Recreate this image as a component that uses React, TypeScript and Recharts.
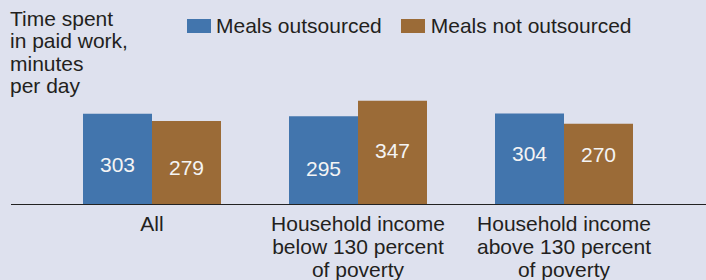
import React from "react";
import { BarChart, Bar, XAxis, YAxis, LabelList } from "recharts";

const categories = [
  "All",
  "Household income\nbelow 130 percent\nof poverty",
  "Household income\nabove 130 percent\nof poverty",
];
const mealsOutsourced = [303, 295, 304];
const mealsNotOutsourced = [279, 347, 270];
const seriesNames = ["Meals outsourced", "Meals not outsourced"];
const titleLines = ["Time spent", "in paid work,", "minutes", "per day"];
// small vertical nudges of the value labels, as placed in the original
const outsourcedLabelDy = [6, 8, -5.5];
const notOutsourcedLabelDy = [5.5, -2, -9];

const BLUE = "#4275ad";
const BROWN = "#9b6b37";
const BG = "#dee1ee";
const TEXT = "#231f20";
const FONT = "'Liberation Sans', Arial, sans-serif";

const data = categories.map((c, i) => ({
  category: c,
  outsourced: mealsOutsourced[i],
  notOutsourced: mealsNotOutsourced[i],
}));

const CategoryTick = (props: any) => {
  const { x, payload } = props;
  const lines = String(payload.value).split("\n");
  return (
    <text x={x} y={231} textAnchor="middle" fill={TEXT} fontSize={21} fontFamily={FONT}>
      {lines.map((l: string, i: number) => (
        <tspan key={i} x={x} y={231 + i * 23}>
          {l}
        </tspan>
      ))}
    </text>
  );
};

const makeValueLabel = (nudges: number[]) => (props: any) => {
  const { x, y, width, height, value, index } = props;
  const cx = Number(x) + Number(width) / 2;
  const cy = Number(y) + Number(height) / 2 + (nudges[index] || 0);
  return (
    <text
      x={cx}
      y={cy}
      textAnchor="middle"
      dominantBaseline="central"
      fill="#f4f4f4"
      fontSize={21}
      fontFamily={FONT}
    >
      {value}
    </text>
  );
};

const LegendBlock = () => (
  <div
    style={{
      position: "absolute",
      top: 14,
      left: 187,
      display: "flex",
      alignItems: "center",
      fontFamily: FONT,
      fontSize: 21,
      color: TEXT,
      whiteSpace: "nowrap",
    }}
  >
    <span style={{ width: 24, height: 14, background: BLUE, display: "inline-block", marginRight: 5 }} />
    <span style={{ marginRight: 19 }}>{seriesNames[0]}</span>
    <span style={{ width: 24, height: 14, background: BROWN, display: "inline-block", marginRight: 6 }} />
    <span>{seriesNames[1]}</span>
  </div>
);

export default function App() {
  return (
    <div
      style={{
        position: "absolute",
        left: 0,
        top: 0,
        width: 706,
        height: 280,
        background: BG,
        overflow: "hidden",
      }}
    >
      <div
        style={{
          position: "absolute",
          left: 10,
          top: 7.5,
          fontFamily: FONT,
          fontSize: 21,
          lineHeight: "22.5px",
          color: TEXT,
        }}
      >
        {titleLines.map((l, i) => (
          <div key={i}>{l}</div>
        ))}
      </div>
      <LegendBlock />
      <BarChart
        width={706}
        height={280}
        data={data}
        margin={{ top: 85, right: 39, bottom: 46, left: 49 }}
        barCategoryGap={34}
        barGap={0}
      >
        <YAxis hide domain={[0, 400]} />
        <XAxis
          dataKey="category"
          axisLine={false}
          tickLine={false}
          interval={0}
          height={30}
          tick={<CategoryTick />}
        />
        <Bar dataKey="outsourced" name={seriesNames[0]} fill={BLUE} isAnimationActive={false}>
          <LabelList dataKey="outsourced" content={makeValueLabel(outsourcedLabelDy)} />
        </Bar>
        <Bar dataKey="notOutsourced" name={seriesNames[1]} fill={BROWN} isAnimationActive={false}>
          <LabelList dataKey="notOutsourced" content={makeValueLabel(notOutsourcedLabelDy)} />
        </Bar>
      </BarChart>
      <div
        style={{
          position: "absolute",
          left: 11,
          top: 204,
          width: 695,
          height: 0,
          borderTop: "1px solid #222",
        }}
      />
    </div>
  );
}
